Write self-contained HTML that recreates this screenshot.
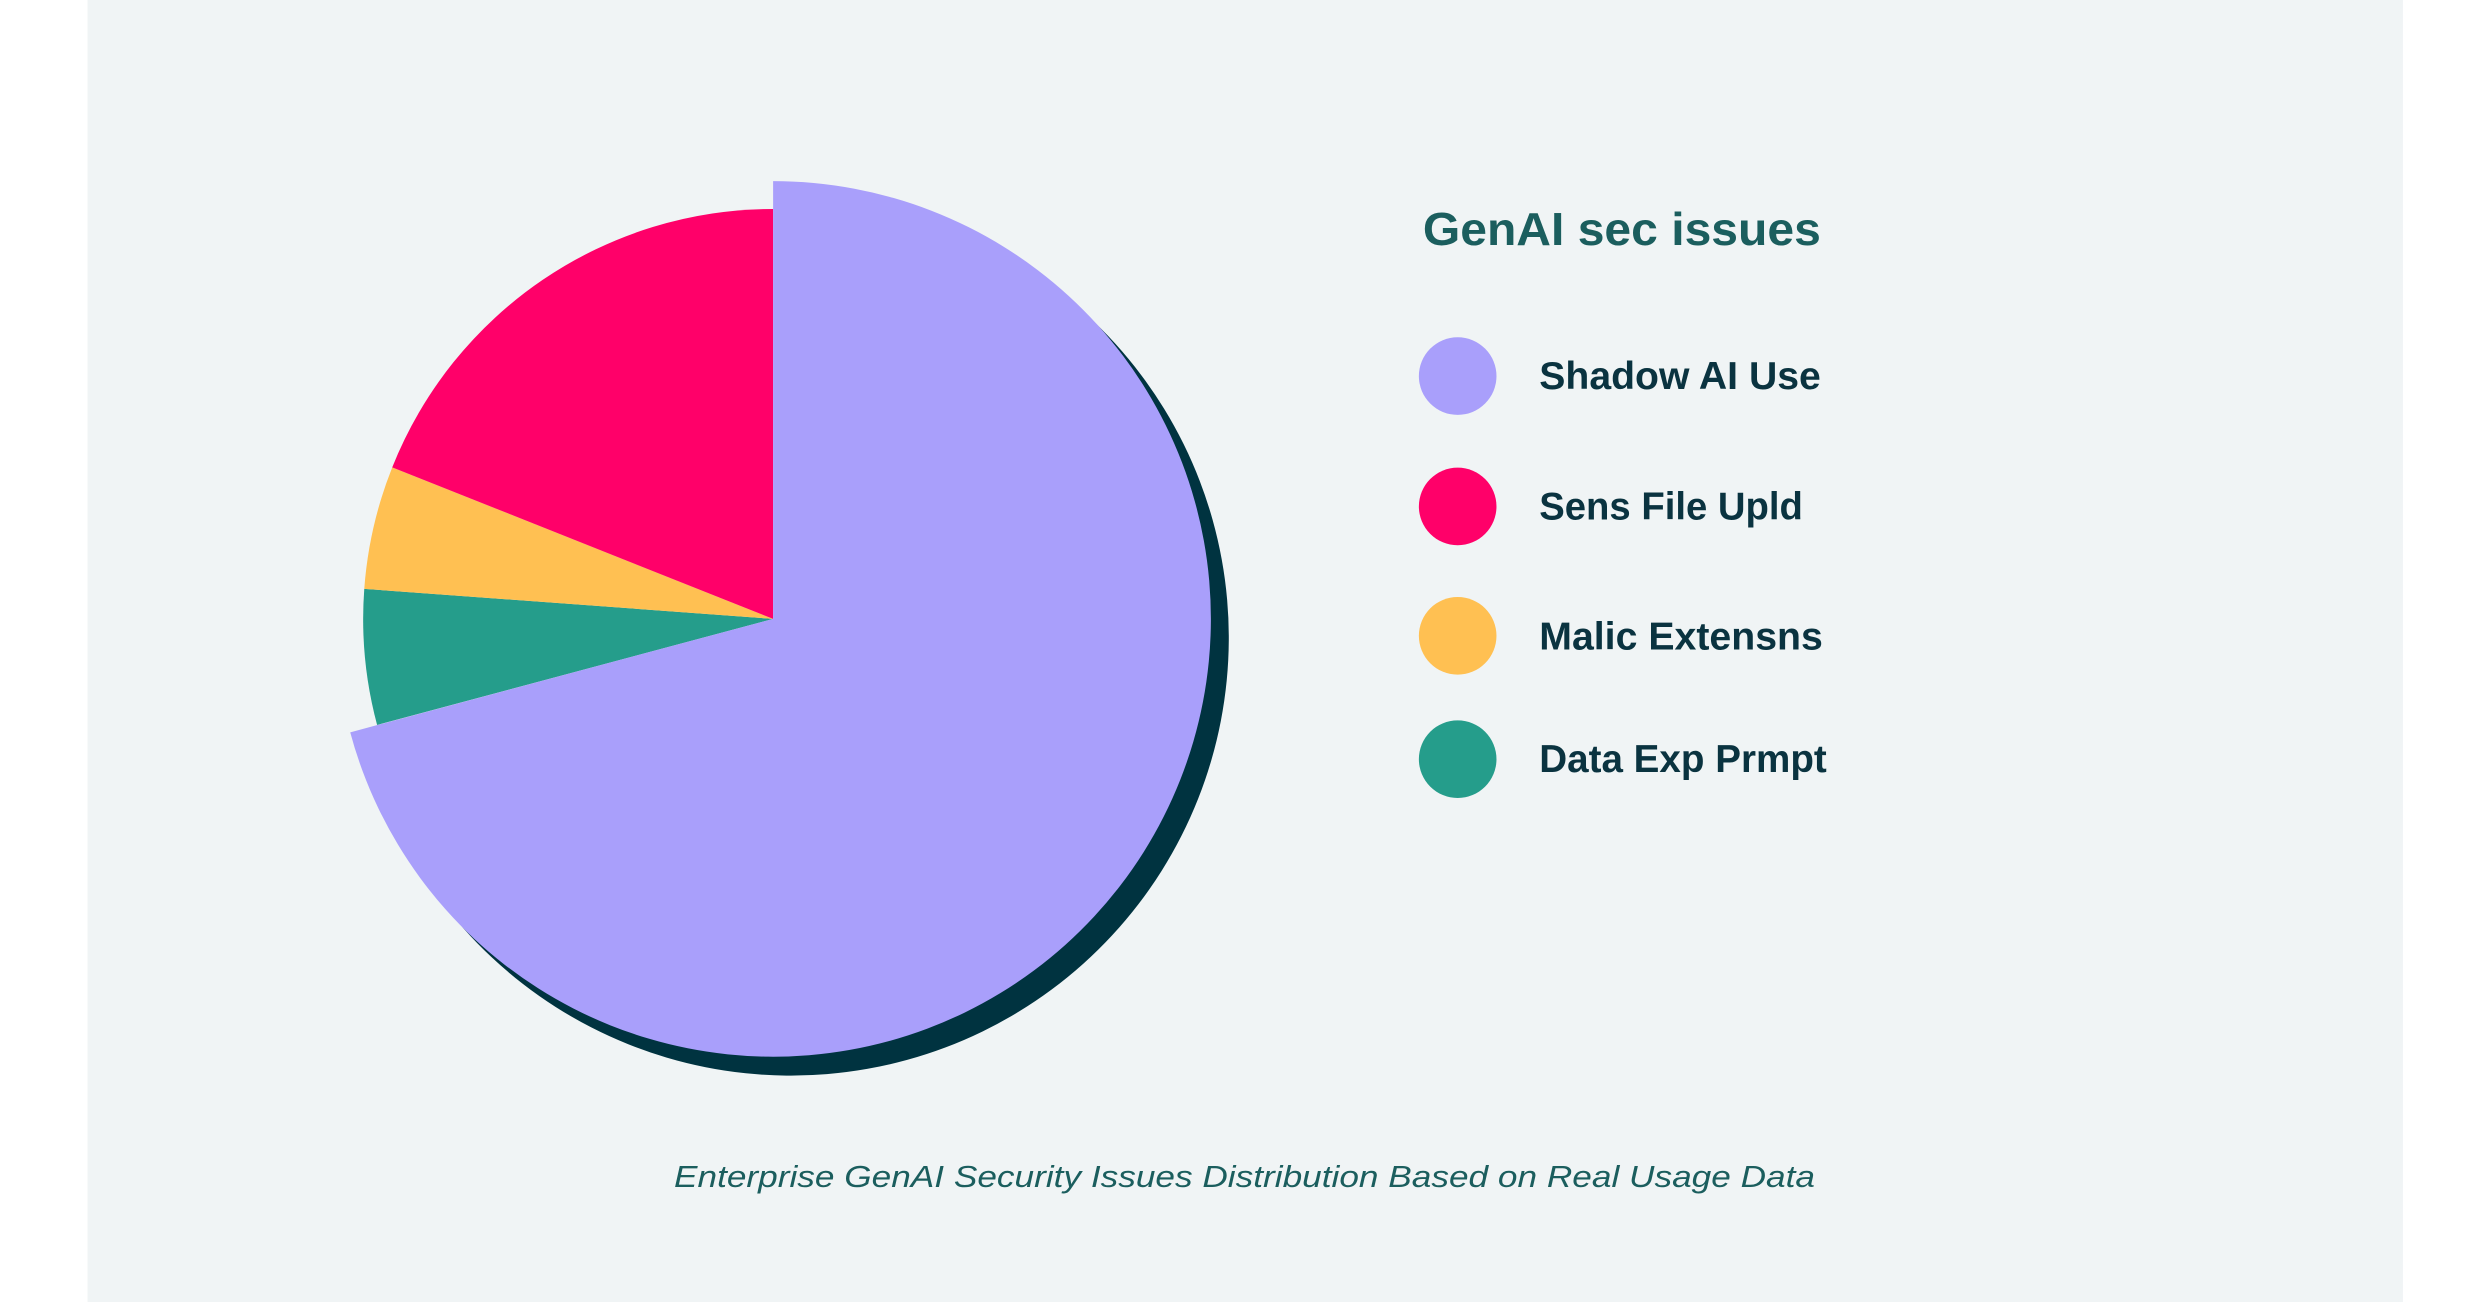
<!DOCTYPE html>
<html><head><meta charset="utf-8"><style>
html,body{margin:0;padding:0;background:#fff;}
svg{display:block;}
</style></head><body>
<svg width="2490" height="1302" viewBox="0 0 2490 1302" xmlns="http://www.w3.org/2000/svg">
<rect x="0" y="0" width="2490" height="1302" fill="#ffffff"/>
<g transform="scale(0.995)">
<rect x="88" y="0" width="2327" height="1310" fill="#f0f4f5"/>
<g transform="translate(18,19)">
<path d="M777,622 L777,182 A440,440 0 1 1 352,736 Z" fill="#003340"/>
</g>
<path d="M777,622 L379,728.6 A412,412 0 0 1 366.1,591.8 Z" fill="#259d8b"/>
<path d="M777,622 L366.1,591.8 A412,412 0 0 1 394.2,469.7 Z" fill="#ffc052"/>
<path d="M777,622 L394.2,469.7 A412,412 0 0 1 777,210 Z" fill="#ff0069"/>
<path d="M777,622 L777,182 A440,440 0 1 1 352,736 Z" fill="#a99ffb"/>
<g font-family="Liberation Sans, sans-serif" font-weight="bold">
<text x="1430" y="246" font-size="47" fill="#1b5e5e" textLength="400" lengthAdjust="spacingAndGlyphs">GenAI sec issues</text>
<circle cx="1465" cy="378" r="39" fill="#a99ffb"/>
<circle cx="1465" cy="509" r="39" fill="#ff0069"/>
<circle cx="1465" cy="639" r="39" fill="#ffc052"/>
<circle cx="1465" cy="763" r="39" fill="#259d8b"/>
<g font-size="39" fill="#0a3340">
<text x="1547" y="391" textLength="283" lengthAdjust="spacingAndGlyphs">Shadow AI Use</text>
<text x="1547" y="522" textLength="265" lengthAdjust="spacingAndGlyphs">Sens File Upld</text>
<text x="1547" y="653" textLength="285" lengthAdjust="spacingAndGlyphs">Malic Extensns</text>
<text x="1547" y="776" textLength="289" lengthAdjust="spacingAndGlyphs">Data Exp Prmpt</text>
</g>
</g>
</g>
<text x="674" y="1187" font-family="Liberation Sans, sans-serif" font-style="italic" font-size="31" fill="#1b5e5e" textLength="1141" lengthAdjust="spacingAndGlyphs">Enterprise GenAI Security Issues Distribution Based on Real Usage Data</text>
</svg>
</body></html>
